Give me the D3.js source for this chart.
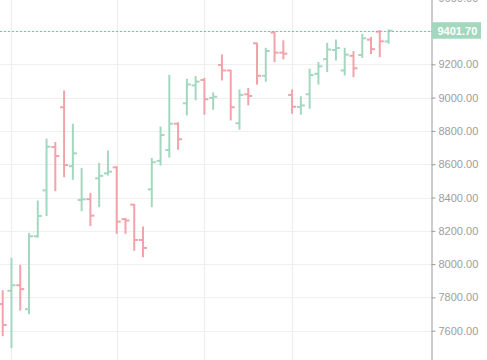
<!DOCTYPE html>
<html>
<head>
<meta charset="utf-8">
<script src="https://cdn.jsdelivr.net/npm/d3@7"></script>
<style>
html,body{margin:0;padding:0;background:#fff;overflow:hidden;}
svg{display:block;font-family:"Liberation Sans",Arial,sans-serif;}
</style>
</head>
<body>
<svg id="chart" width="487" height="360"></svg>
<script>
// ---- data (OHLC per bar) ----
const opens  = [7760,7840,7873,7729,8167,8443,8703,8942,8588,8385,8390,8515,8545,8581,8270,8357,8145,8449,8620,8685,8843,8966,9073,9106,8998,9196,9163,8846,9020,9326,9131,9391,9270,9016,8944,9020,9143,9231,9286,9163,9251,9256,9348,9396,9337];
const highs  = [7840,8035,7993,8184,8379,8750,8730,9040,8840,8575,8425,8605,8679,8585,8275,8358,8223,8635,8823,9134,8849,9110,9126,9115,9028,9256,9164,9046,9055,9326,9296,9396,9341,9046,9005,9171,9211,9326,9346,9296,9276,9380,9361,9403,9406];
const lows   = [7570,7498,7724,7702,8162,8292,8441,8525,8509,8321,8231,8345,8535,8185,8185,8083,8044,8345,8595,8643,8690,8896,8987,8900,8930,9106,8866,8810,8956,9081,9098,9216,9233,8906,8900,8936,9081,9156,9226,9136,9126,9241,9264,9246,9326];
const closes = [7634,7873,7850,8167,8289,8705,8649,8595,8665,8389,8291,8530,8555,8255,8262,8145,8097,8612,8775,8843,8750,9079,9096,8990,9005,9163,8942,9016,9010,9131,9280,9270,9264,8945,8953,9136,9188,9289,9298,9258,9176,9356,9291,9338,9401.7];
const gridBars = [1, 13, 23, 33];
const priceTicks = [7600, 7800, 8000, 8200, 8400, 8600, 8800, 9000, 9200, 9400, 9600];
const lastPrice = 9401.70;

const upColor = "#a3d8bf";
const downColor = "#f2a3aa";

const W = 487, H = 360, axisX = 431.5;
const svg = d3.select("#chart");

const x = d3.scaleLinear().domain([-0.308, 48.84]).range([0, 431]);
const y = d3.scaleLinear().domain([7400, 9600]).range([364.0, -2.3]);

// grid
const grid = svg.append("g");
grid.selectAll("line.h").data(priceTicks).join("line")
  .attr("x1", 0).attr("x2", axisX)
  .attr("y1", d => Math.round(y(d)) + 0.5).attr("y2", d => Math.round(y(d)) + 0.5)
  .attr("stroke", "#f0f0f0").attr("stroke-width", 1);
grid.selectAll("line.v").data(gridBars).join("line")
  .attr("x1", d => Math.round(x(d)) + 0.5).attr("x2", d => Math.round(x(d)) + 0.5)
  .attr("y1", 0).attr("y2", H)
  .attr("stroke", "#ececec").attr("stroke-width", 1);

// bars
const data = opens.map((o, i) => ({i, o, h: highs[i], l: lows[i], c: closes[i]}));
const bars = svg.append("g");
const g = bars.selectAll("g").data(data).join("g")
  .attr("stroke", d => d.c >= d.o ? upColor : downColor)
  .attr("stroke-width", 2);
g.append("line")
  .attr("x1", d => x(d.i)).attr("x2", d => x(d.i))
  .attr("y1", d => y(d.h) - 0.5).attr("y2", d => y(d.l) + 0.5);
g.append("line")
  .attr("x1", d => x(d.i) - 4).attr("x2", d => x(d.i))
  .attr("y1", d => y(d.o)).attr("y2", d => y(d.o));
g.append("line")
  .attr("x1", d => x(d.i)).attr("x2", d => x(d.i) + 4)
  .attr("y1", d => y(d.c)).attr("y2", d => y(d.c));

// last price dashed line
svg.append("line")
  .attr("x1", 0).attr("x2", axisX)
  .attr("y1", Math.round(y(lastPrice)) + 0.5).attr("y2", Math.round(y(lastPrice)) + 0.5)
  .attr("stroke", "#74c5a0").attr("stroke-width", 1).attr("stroke-dasharray", "2,2");

// right axis
const axis = d3.axisRight(y).tickValues(priceTicks).tickFormat(d3.format(".2f")).tickSize(4).tickPadding(3);
const ag = svg.append("g").attr("transform", `translate(${axisX},0)`).call(axis);
ag.select(".domain").attr("stroke", "#9a9a9a").attr("d", `M0.5,-10V${H+10}`);
ag.selectAll(".tick line").attr("stroke", "#9a9a9a");
ag.selectAll(".tick text").attr("fill", "#9d9d9d").attr("font-size", 11)
  .attr("font-family", "'Liberation Sans', Arial, sans-serif");

// last price label
const ly = y(lastPrice);
svg.append("rect")
  .attr("x", axisX + 0.5).attr("y", ly - 8.5).attr("width", 49).attr("height", 16.5)
  .attr("fill", upColor);
svg.append("text")
  .attr("x", axisX + 6).attr("y", ly + 0.5)
  .attr("dy", "0.35em")
  .attr("fill", "#ffffff").attr("font-size", 11).attr("font-weight", "bold")
  .text(d3.format(".2f")(lastPrice));
</script>
</body>
</html>
